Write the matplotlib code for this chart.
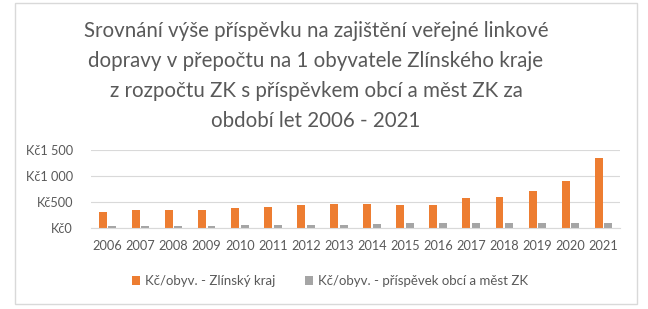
import numpy as np
import matplotlib
matplotlib.use("Agg")
import matplotlib.pyplot as plt
from matplotlib.patches import Rectangle

# Data
years = [str(y) for y in range(2006, 2022)]
kraj = [313, 346, 346, 346, 385, 404, 442, 465, 467, 442, 442, 577, 596, 711, 904, 1346]
obce = [40, 40, 40, 40, 58, 58, 58, 58, 77, 96, 96, 96, 96, 96, 96, 96]
yticks = [0, 500, 1000, 1500]
ytick_labels = ["Kč0", "Kč500", "Kč1 000", "Kč1 500"]
series_names = ["Kč/obyv. - Zlínský kraj", "Kč/obyv. - příspěvek obcí a měst ZK"]
title = ("Srovnání výše příspěvku na zajištění veřejné linkové\n"
         "dopravy v přepočtu na 1 obyvatele Zlínského kraje\n"
         "z rozpočtu ZK s příspěvkem obcí a měst ZK za\n"
         "období let 2006 - 2021")

orange = "#ED7D31"
grey = "#A5A5A5"
text_col = "#595959"

plt.rcParams['font.family'] = ['Lato', 'DejaVu Sans']

fig = plt.figure(figsize=(6.48, 3.09), dpi=100)
fig.patches.append(Rectangle((15 / 648, 1 - 304 / 309), 622 / 648, 301 / 309,
                             transform=fig.transFigure, fill=False,
                             edgecolor="#D9D9D9", linewidth=1))

ax = fig.add_axes([91 / 648, 1 - 228 / 309, 529 / 648, 78 / 309])
x = np.arange(len(years))
w = 0.24
ax.bar(x - 0.145, kraj, w, color=orange, label=series_names[0], zorder=3)
ax.bar(x + 0.145, obce, w, color=grey, label=series_names[1], zorder=3)

ax.set_xlim(-0.5, len(years) - 0.5)
ax.set_ylim(0, 1500)
ax.set_yticks(yticks)
ax.set_yticklabels(ytick_labels)
ax.set_xticks(x)
ax.set_xticklabels(years)
ax.tick_params(axis='both', length=0, labelsize=9.2, colors=text_col)
ax.tick_params(axis='x', pad=9)
ax.tick_params(axis='y', pad=13)
ax.grid(axis='y', color="#D9D9D9", linewidth=0.8, zorder=0)
for s in ["top", "right", "left"]:
    ax.spines[s].set_visible(False)
ax.spines["bottom"].set_color("#D9D9D9")
ax.spines["bottom"].set_zorder(4)

fig.text(316 / 648, 1 - 76 / 309, title, ha='center', va='center',
         fontsize=14.8, color=text_col, linespacing=1.62)

fig.legend(loc='center', bbox_to_anchor=(330 / 648, 1 - 281 / 309), ncol=2,
           frameon=False, fontsize=9.5, labelcolor=text_col, handlelength=0.6,
           handleheight=0.6, handletextpad=0.4, columnspacing=2.2)

fig.savefig("out.png", dpi=100)
